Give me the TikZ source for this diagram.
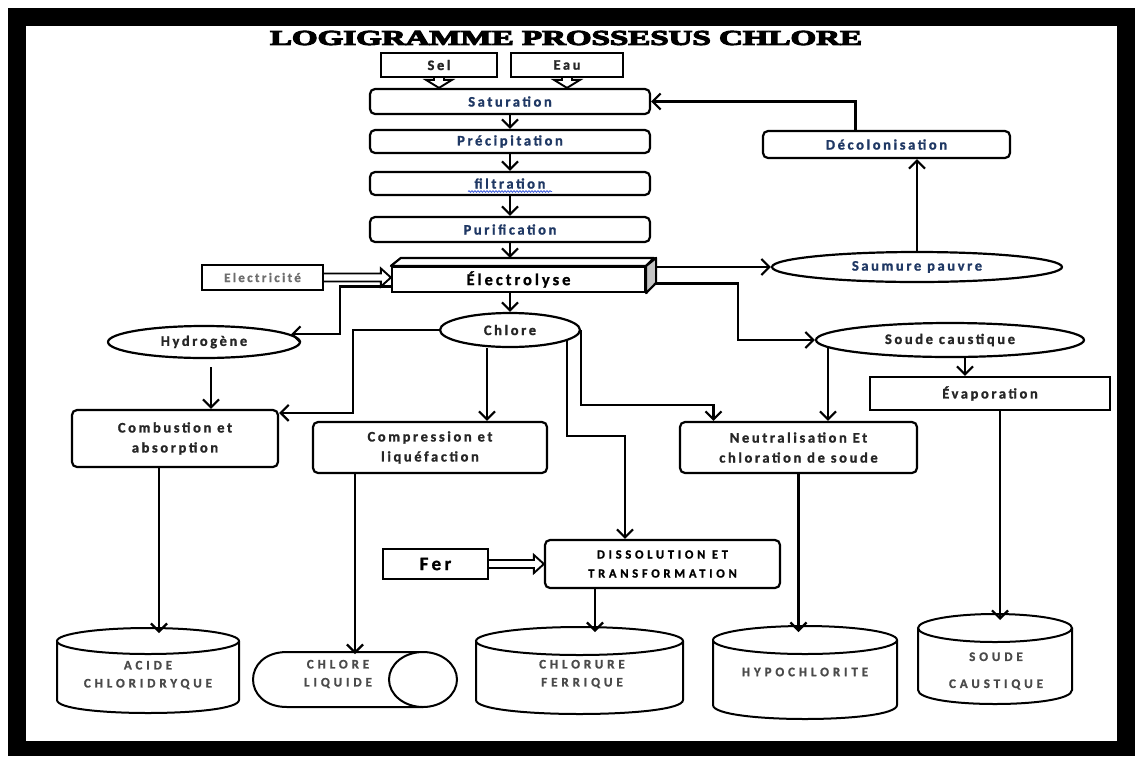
\documentclass[tikz,border=0pt]{standalone}
\usepackage{fontspec}
\usepackage{graphicx}
\usetikzlibrary{arrows.meta,shapes.geometric,decorations.pathmorphing,calc}
\setmainfont{Carlito}
\newfontfamily\labfont[LetterSpace=18,BoldFeatures={FakeBold=1.2}]{Carlito}
\newfontfamily\capsfont[LetterSpace=30,BoldFeatures={FakeBold=1.2}]{Carlito}
\newfontfamily\titlefont[BoldFeatures={FakeBold=4.5}]{Liberation Serif}
\definecolor{stepblue}{HTML}{1F3864}
\definecolor{inktext}{HTML}{262626}
\definecolor{softtext}{HTML}{4A4A4A}
\definecolor{sideface}{HTML}{C4C4C4}
\definecolor{squiggle}{HTML}{3B5BDB}

\newcommand\txtstep{\labfont\bfseries\fontsize{14.5}{20}\selectfont}
\newcommand\txtcaps{\capsfont\bfseries\fontsize{13}{18}\selectfont}

% vertical storage tank: centre x, x radius, top y, bottom y, y radius
\newcommand\drawtank[5]{%
  \draw[tankline] ({#1-#2},#3) -- ({#1-#2},#4)
     .. controls ({#1-#2},{#4+1.333*#5}) and ({#1+#2},{#4+1.333*#5}) .. ({#1+#2},#4)
     -- ({#1+#2},#3);
  \draw[tankline] (#1,#3) ellipse [x radius=#2, y radius=#5];
}

% hollow feed arrow going down from anchor #1 to the level of anchor #2
\newcommand\feeddown[2]{%
  \draw[feedline] ($(#1)+(-5,0)$) -- ($(#1 |- #2)+(-5,-8)$) -- ($(#1 |- #2)+(-13,-8)$)
    -- (#1 |- #2) -- ($(#1 |- #2)+(13,-8)$) -- ($(#1 |- #2)+(5,-8)$) -- ($(#1)+(5,0)$);
}
% hollow feed arrow going right from anchor #1 to the side of anchor #2
\newcommand\feedright[2]{%
  \draw[feedline] ($(#1)+(0,-4)$) -- ($(#1 -| #2)+(-10,-4)$) -- ($(#1 -| #2)+(-10,-9)$)
    -- (#1 -| #2) -- ($(#1 -| #2)+(-10,9)$) -- ($(#1 -| #2)+(-10,4)$) -- ($(#1)+(0,4)$);
}

\tikzset{
  lw/.style={line width=2.2pt},
  stepbox/.style={draw, lw, rounded corners=5pt, fill=white, inner sep=0pt,
    align=center, font=\txtstep, text=stepblue},
  plainbox/.style={draw, lw, fill=white, inner sep=0pt, align=center,
    font=\txtstep, text=inktext},
  oval/.style={draw, lw, ellipse, fill=white, inner sep=0pt,
    font=\txtstep, text=inktext},
  tankline/.style={line width=2pt, fill=white},
  tanktext/.style={align=center, font=\txtcaps, text=softtext},
  flow/.style={lw, -{Straight Barb[length=8pt,width=16pt]}},
  feedline/.style={line width=1.9pt, line join=miter, fill=white},
}

\begin{document}
\begin{tikzpicture}[x=1pt,y=-1pt]
\useasboundingbox (0,0) rectangle (1135,756);
\fill[white] (0,0) rectangle (1135,756);
\fill[black] (8,8) rectangle (1135,756);
\fill[white] (26,26) rectangle (1117,741);

% title
\node (title) at (566,38) {\resizebox{592pt}{14pt}{\titlefont\bfseries LOGIGRAMME PROSSESUS CHLORE}};

% brine preparation
\node[plainbox, minimum width=116pt, minimum height=24pt] (sel) at (439,65) {Sel};
\node[plainbox, minimum width=112pt, minimum height=24pt] (eau) at (567,65) {Eau};
\node[stepbox, minimum width=280pt, minimum height=25pt] (sat) at (510,101.5) {Saturation};
\node[stepbox, minimum width=280pt, minimum height=23pt] (prec) at (510,141.5) {Précipitation};
\node[stepbox, minimum width=280pt, minimum height=23pt] (filt) at (510,183.5) {filtration};
\node[stepbox, minimum width=280pt, minimum height=25pt] (puri) at (510,229.5) {Purification};
\draw[squiggle, line width=0.8pt, decorate, decoration={snake, amplitude=0.8pt, segment length=3pt}]
  ([xshift=-42pt,yshift=-8pt]filt.center) -- ([xshift=42pt,yshift=-8pt]filt.center);

% electrolysis cell
\node[plainbox, minimum width=253pt, minimum height=25pt, text=black,
  font=\labfont\bfseries\fontsize{16.5}{18}\selectfont] (elec) at (518.5,279.5) {Électrolyse};
\draw[lw, line join=round, fill=white] (elec.north west) -- ++(10,-8) -- ++(253,0) -- (elec.north east) -- cycle;
\draw[lw, line join=round, fill=sideface] (elec.north east) -- ++(10,-8) -- ++(0,25) -- (elec.south east) -- cycle;
\coordinate (electop) at ([yshift=8pt]elec.north);
\coordinate (elecside) at ([xshift=10pt]elec.east);
\node[plainbox, minimum width=121pt, minimum height=25pt, text=softtext!80,
  font=\labfont\bfseries\fontsize{13}{15}\selectfont] (power) at (262.5,277.5) {Electricité};

% brine recycling
\node[stepbox, minimum width=247pt, minimum height=27pt] (decol) at (886.5,144.5) {Décolonisation};
\node[oval, minimum width=290pt, minimum height=30pt, text=stepblue] (saum) at (917,267) {Saumure pauvre};

% products of electrolysis
\node[oval, minimum width=192pt, minimum height=32pt] (hydro) at (204,342) {Hydrogène};
\node[oval, minimum width=140pt, minimum height=34pt] (chlore) at (510,330) {Chlore};
\node[oval, minimum width=268pt, minimum height=34pt] (soude) at (950,340) {Soude caustique};
\node[plainbox, minimum width=240pt, minimum height=33pt] (evap) at (990,393.5) {Évaporation};

% treatment steps
\node[stepbox, text=inktext, minimum width=206pt, minimum height=57pt] (comb) at (175,438.5) {Combustion et\\absorption};
\node[stepbox, text=inktext, minimum width=234pt, minimum height=51pt] (comp) at (430,447.5) {Compression et\\liquéfaction};
\node[stepbox, text=inktext, minimum width=237pt, minimum height=51pt] (neut) at (798.5,447.5) {Neutralisation Et\\chloration de soude};
\node[stepbox, text=black, minimum width=235pt, minimum height=48pt,
  font=\capsfont\bfseries\fontsize{12.5}{19}\selectfont] (diss) at (662.5,564) {DISSOLUTION ET\\TRANSFORMATION};
\node[plainbox, minimum width=105pt, minimum height=30pt, text=black,
  font=\labfont\bfseries\fontsize{19}{20}\selectfont] (fer) at (435.5,564) {Fer};

% storage tanks
\drawtank{148}{91}{641}{700}{13}
\draw[tankline] (423,652) -- (287,652) .. controls (241.7,652) and (241.7,707) .. (287,707) -- (423,707);
\draw[tankline] (423,679.5) ellipse [x radius=34, y radius=27.5];
\drawtank{579.5}{103.5}{641}{700}{14}
\drawtank{805}{92}{640}{705}{14}
\drawtank{995}{77}{628}{690}{14}
\node[tanktext] (acide) at (148,675) {ACIDE\\CHLORIDRYQUE};
\node[tanktext] (liquide) at (338,674) {CHLORE\\LIQUIDE};
\node[tanktext] (chlorure) at (582,674) {CHLORURE\\FERRIQUE};
\node[tanktext] (hypo) at (805,672) {HYPOCHLORITE};
\node[tanktext] (soudetank) at (996,671) {SOUDE\\[9pt]CAUSTIQUE};
\coordinate (acidetop) at (159,633);
\coordinate (liquidetop) at (355,654);
\coordinate (chloruretop) at (595,632);
\coordinate (hypotop) at (798.5,632);
\coordinate (soudetop) at (1000,620);

% connectors: brine line
\feeddown{sel.south}{sat.north}
\feeddown{eau.south}{sat.north}
\draw[flow] (sat) -- (prec);
\draw[flow] (prec) -- (filt);
\draw[flow] (filt) -- (puri);
\draw[flow] (puri.south) -- (puri.south |- electop);
\feedright{power.east}{elec.west}
\draw[flow] ([xshift=-31pt]decol.north) |- (sat.east);
\draw[flow] (saum.north) -- (saum.north |- decol.south);
\draw[flow] (elecside |- saum.west) -- (saum.west);
\draw[flow] ([yshift=-4pt]elecside) -- ++(82,0) |- (soude.west);

% connectors: electrolysis products
\draw[flow] (elec.south -| chlore.north) -- (chlore.north);
\draw[flow] ([yshift=-7pt]elec.west) -- ++(-51,0) |- (hydro.5);
\coordinate (hydroout) at ([xshift=7pt,yshift=-8pt]hydro.south);
\draw[flow] (hydroout) -- (hydroout |- comb.north);
\draw[flow] (chlore.west) -- ++(-86,0) |- ([yshift=-4pt]comb.north east);
\coordinate (clcomp) at ([xshift=-23pt]chlore.south);
\draw[flow] (clcomp) -- (clcomp |- comp.north);
\draw[flow] (chlore.east) -- ++(0,75) -| ([xshift=-85pt]neut.north);
\coordinate (cldiss) at ([xshift=57pt,yshift=-9pt]chlore.center);
\draw[flow] (cldiss) -- ++(0,97) -| ([xshift=-37.5pt]diss.north);
\coordinate (soneut) at ([xshift=-122pt,yshift=-7pt]soude.center);
\draw[flow] (soneut) -- (soneut |- neut.north);
\coordinate (soevap) at ([xshift=15pt]soude.south);
\draw[flow] (soevap) -- (soevap |- evap.north);
\feedright{fer.east}{diss.west}

% connectors: to storage
\draw[flow] (acidetop |- comb.south) -- (acidetop);
\draw[flow] (liquidetop |- comp.south) -- (liquidetop);
\draw[flow] (chloruretop |- diss.south) -- (chloruretop);
\draw[flow] (hypotop |- neut.south) -- (hypotop);
\draw[flow] (soudetop |- evap.south) -- (soudetop);
\end{tikzpicture}
\end{document}
